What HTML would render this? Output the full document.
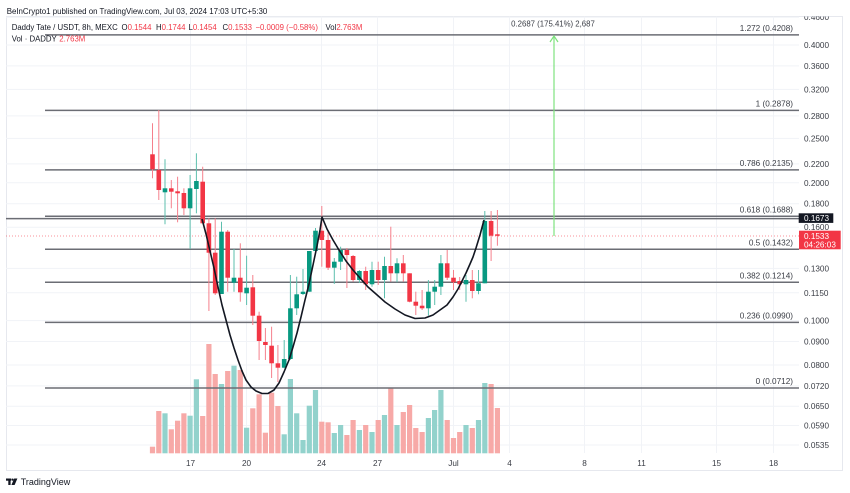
<!DOCTYPE html>
<html><head><meta charset="utf-8"><style>
html,body{margin:0;padding:0;background:#fff;width:850px;height:493px;overflow:hidden}
svg{display:block;font-family:"Liberation Sans",Arial,sans-serif}
</style></head><body>
<svg width="850" height="493" viewBox="0 0 850 493" xmlns="http://www.w3.org/2000/svg">
<rect width="850" height="493" fill="#fff"/>
<text x="6.7" y="13.8" font-size="7.9" fill="#131722">BeInCrypto1 published on TradingView.com, Jul 03, 2024 17:03 UTC+5:30</text>
<defs><clipPath id="pane"><rect x="6" y="16.5" width="837" height="454"/></clipPath></defs>
<rect x="6.5" y="16.5" width="836" height="454" fill="#fff" stroke="#e6e8ee" stroke-width="1"/>
<g clip-path="url(#pane)">
<!-- grid -->
<g stroke="#f1f3f7" stroke-width="1">
<line x1="6" x2="799" y1="17.2" y2="17.2"/><line x1="6" x2="799" y1="45" y2="45"/><line x1="6" x2="799" y1="65.9" y2="65.9"/><line x1="6" x2="799" y1="89.4" y2="89.4"/><line x1="6" x2="799" y1="115.9" y2="115.9"/><line x1="6" x2="799" y1="138.4" y2="138.4"/><line x1="6" x2="799" y1="163.9" y2="163.9"/><line x1="6" x2="799" y1="182.8" y2="182.8"/><line x1="6" x2="799" y1="203.7" y2="203.7"/><line x1="6" x2="799" y1="227.2" y2="227.2"/><line x1="6" x2="799" y1="268.4" y2="268.4"/><line x1="6" x2="799" y1="292.8" y2="292.8"/><line x1="6" x2="799" y1="320.6" y2="320.6"/><line x1="6" x2="799" y1="341.5" y2="341.5"/><line x1="6" x2="799" y1="365" y2="365"/><line x1="6" x2="799" y1="385.9" y2="385.9"/><line x1="6" x2="799" y1="406.2" y2="406.2"/><line x1="6" x2="799" y1="425.5" y2="425.5"/><line x1="6" x2="799" y1="445" y2="445"/>
<line x1="190.5" x2="190.5" y1="16" y2="453"/><line x1="246.5" x2="246.5" y1="16" y2="453"/><line x1="321.5" x2="321.5" y1="16" y2="453"/><line x1="377.5" x2="377.5" y1="16" y2="453"/><line x1="453.5" x2="453.5" y1="16" y2="453"/><line x1="509.5" x2="509.5" y1="16" y2="453"/><line x1="584.5" x2="584.5" y1="16" y2="453"/><line x1="641.5" x2="641.5" y1="16" y2="453"/><line x1="716.5" x2="716.5" y1="16" y2="453"/><line x1="773.5" x2="773.5" y1="16" y2="453"/>
</g>
<!-- volume -->
<g>
<rect x="149.9" y="446.7" width="5.2" height="6.6" fill="#f7a9a7"/>
<rect x="156.2" y="411" width="5.2" height="42.3" fill="#f7a9a7"/>
<rect x="162.4" y="413.3" width="5.2" height="40" fill="#92d2cc"/>
<rect x="168.7" y="429.3" width="5.2" height="24" fill="#f7a9a7"/>
<rect x="175" y="420.7" width="5.2" height="32.6" fill="#f7a9a7"/>
<rect x="181.3" y="413.3" width="5.2" height="40" fill="#f7a9a7"/>
<rect x="187.5" y="415.7" width="5.2" height="37.6" fill="#92d2cc"/>
<rect x="193.8" y="379.3" width="5.2" height="74" fill="#92d2cc"/>
<rect x="200.1" y="416" width="5.2" height="37.3" fill="#f7a9a7"/>
<rect x="206.3" y="344" width="5.2" height="109.3" fill="#f7a9a7"/>
<rect x="212.6" y="374" width="5.2" height="79.3" fill="#f7a9a7"/>
<rect x="218.9" y="384" width="5.2" height="69.3" fill="#92d2cc"/>
<rect x="225.1" y="371" width="5.2" height="82.3" fill="#f7a9a7"/>
<rect x="231.4" y="365.7" width="5.2" height="87.6" fill="#92d2cc"/>
<rect x="237.7" y="370" width="5.2" height="83.3" fill="#f7a9a7"/>
<rect x="244" y="427.7" width="5.2" height="25.6" fill="#92d2cc"/>
<rect x="250.2" y="408.3" width="5.2" height="45" fill="#f7a9a7"/>
<rect x="256.5" y="394.3" width="5.2" height="59" fill="#f7a9a7"/>
<rect x="262.8" y="432.7" width="5.2" height="20.6" fill="#f7a9a7"/>
<rect x="269" y="392.7" width="5.2" height="60.6" fill="#f7a9a7"/>
<rect x="275.3" y="406" width="5.2" height="47.3" fill="#f7a9a7"/>
<rect x="281.6" y="434.3" width="5.2" height="19" fill="#92d2cc"/>
<rect x="287.8" y="379" width="5.2" height="74.3" fill="#92d2cc"/>
<rect x="294.1" y="413.3" width="5.2" height="40" fill="#92d2cc"/>
<rect x="300.4" y="440" width="5.2" height="13.3" fill="#92d2cc"/>
<rect x="306.7" y="405.7" width="5.2" height="47.6" fill="#92d2cc"/>
<rect x="312.9" y="390" width="5.2" height="63.3" fill="#92d2cc"/>
<rect x="319.2" y="421.7" width="5.2" height="31.6" fill="#f7a9a7"/>
<rect x="325.5" y="422.3" width="5.2" height="31" fill="#f7a9a7"/>
<rect x="331.7" y="433" width="5.2" height="20.3" fill="#92d2cc"/>
<rect x="338" y="425" width="5.2" height="28.3" fill="#92d2cc"/>
<rect x="344.3" y="435" width="5.2" height="18.3" fill="#f7a9a7"/>
<rect x="350.5" y="420" width="5.2" height="33.3" fill="#f7a9a7"/>
<rect x="356.8" y="430" width="5.2" height="23.3" fill="#92d2cc"/>
<rect x="363.1" y="425" width="5.2" height="28.3" fill="#f7a9a7"/>
<rect x="369.4" y="432" width="5.2" height="21.3" fill="#92d2cc"/>
<rect x="375.6" y="420" width="5.2" height="33.3" fill="#f7a9a7"/>
<rect x="381.9" y="415" width="5.2" height="38.3" fill="#92d2cc"/>
<rect x="388.2" y="388" width="5.2" height="65.3" fill="#f7a9a7"/>
<rect x="394.4" y="425" width="5.2" height="28.3" fill="#92d2cc"/>
<rect x="400.7" y="412" width="5.2" height="41.3" fill="#f7a9a7"/>
<rect x="407" y="405" width="5.2" height="48.3" fill="#f7a9a7"/>
<rect x="413.2" y="428" width="5.2" height="25.3" fill="#f7a9a7"/>
<rect x="419.5" y="432" width="5.2" height="21.3" fill="#f7a9a7"/>
<rect x="425.8" y="418" width="5.2" height="35.3" fill="#92d2cc"/>
<rect x="432" y="410" width="5.2" height="43.3" fill="#92d2cc"/>
<rect x="438.3" y="390" width="5.2" height="63.3" fill="#92d2cc"/>
<rect x="444.6" y="420" width="5.2" height="33.3" fill="#f7a9a7"/>
<rect x="450.9" y="438" width="5.2" height="15.3" fill="#f7a9a7"/>
<rect x="457.1" y="432" width="5.2" height="21.3" fill="#f7a9a7"/>
<rect x="463.4" y="425" width="5.2" height="28.3" fill="#92d2cc"/>
<rect x="469.7" y="428" width="5.2" height="25.3" fill="#f7a9a7"/>
<rect x="475.9" y="420" width="5.2" height="33.3" fill="#92d2cc"/>
<rect x="482.2" y="383" width="5.2" height="70.3" fill="#92d2cc"/>
<rect x="488.5" y="384" width="5.2" height="69.3" fill="#f7a9a7"/>
<rect x="494.8" y="408" width="5.2" height="45.3" fill="#f7a9a7"/>
</g>
<!-- fib lines -->
<g stroke="#6b6d74" stroke-width="1.5">
<line x1="45" x2="799" y1="34.9" y2="34.9"/>
<line x1="45" x2="799" y1="110.4" y2="110.4"/>
<line x1="45" x2="799" y1="169.9" y2="169.9"/>
<line x1="45" x2="799" y1="216.2" y2="216.2"/>
<line x1="6" x2="799" y1="218.6" y2="218.6"/>
<line x1="45" x2="799" y1="249.2" y2="249.2"/>
<line x1="45" x2="799" y1="282.2" y2="282.2"/>
<line x1="45" x2="799" y1="322.4" y2="322.4"/>
<line x1="45" x2="799" y1="388" y2="388"/>
</g>
<g font-size="8.2" fill="#3a3d45" text-anchor="end">
<text x="793" y="31">1.272 (0.4208)</text>
<text x="793" y="106.6">1 (0.2878)</text>
<text x="793" y="166">0.786 (0.2135)</text>
<text x="793" y="212.4">0.618 (0.1688)</text>
<text x="793" y="245.4">0.5 (0.1432)</text>
<text x="793" y="278.4">0.382 (0.1214)</text>
<text x="793" y="318.6">0.236 (0.0990)</text>
<text x="793" y="384.2">0 (0.0712)</text>
</g>
<!-- current price dotted -->
<line x1="6" x2="799" y1="236" y2="236" stroke="#f23645" stroke-opacity="0.55" stroke-width="1" stroke-dasharray="1,2"/>
<!-- candles -->
<g stroke-width="1">
<g fill="#f23645" stroke="#f5808c">
<line x1="152.5" x2="152.5" y1="123.3" y2="178.3"/><rect x="150.2" y="154.3" width="4.6" height="15" stroke="none"/>
<line x1="158.8" x2="158.8" y1="110" y2="200"/><rect x="156.5" y="170" width="4.6" height="20" stroke="none"/>
<line x1="171.3" x2="171.3" y1="180" y2="208.3"/><rect x="169" y="188.3" width="4.6" height="3.4" stroke="none"/>
<line x1="177.6" x2="177.6" y1="176.7" y2="222.3"/><rect x="175.3" y="191.3" width="4.6" height="2" stroke="none"/>
<line x1="183.9" x2="183.9" y1="188.3" y2="215"/><rect x="181.6" y="193" width="4.6" height="15.3" stroke="none"/>
<line x1="202.7" x2="202.7" y1="166.7" y2="223.3"/><rect x="200.4" y="181.7" width="4.6" height="41.6" stroke="none"/>
<line x1="208.9" x2="208.9" y1="218.3" y2="311"/><rect x="206.6" y="223.3" width="4.6" height="29.4" stroke="none"/>
<line x1="215.2" x2="215.2" y1="218.3" y2="295"/><rect x="212.9" y="252.7" width="4.6" height="40.6" stroke="none"/>
<line x1="227.7" x2="227.7" y1="230" y2="291.7"/><rect x="225.4" y="231.7" width="4.6" height="46" stroke="none"/>
<line x1="240.3" x2="240.3" y1="243.3" y2="301.7"/><rect x="238" y="277.7" width="4.6" height="14.6" stroke="none"/>
<line x1="252.8" x2="252.8" y1="275" y2="325"/><rect x="250.5" y="287.3" width="4.6" height="28.4" stroke="none"/>
<line x1="259.1" x2="259.1" y1="311.7" y2="360"/><rect x="256.8" y="315.7" width="4.6" height="25.3" stroke="none"/>
<line x1="265.4" x2="265.4" y1="328" y2="360"/><rect x="263.1" y="342" width="4.6" height="3" stroke="none"/>
<line x1="271.6" x2="271.6" y1="326.7" y2="378"/><rect x="269.3" y="345.7" width="4.6" height="17.6" stroke="none"/>
<line x1="277.9" x2="277.9" y1="345" y2="382"/><rect x="275.6" y="363.3" width="4.6" height="4.4" stroke="none"/>
<line x1="321.8" x2="321.8" y1="206" y2="266.7"/><rect x="319.5" y="230.7" width="4.6" height="9.3" stroke="none"/>
<line x1="328.1" x2="328.1" y1="230" y2="270"/><rect x="325.8" y="240" width="4.6" height="27.7" stroke="none"/>
<line x1="346.9" x2="346.9" y1="248" y2="288"/><rect x="344.6" y="250" width="4.6" height="5" stroke="none"/>
<line x1="353.1" x2="353.1" y1="255" y2="281.7"/><rect x="350.8" y="256" width="4.6" height="24" stroke="none"/>
<line x1="365.7" x2="365.7" y1="266.7" y2="290"/><rect x="363.4" y="271" width="4.6" height="13.3" stroke="none"/>
<line x1="378.2" x2="378.2" y1="261.7" y2="285"/><rect x="375.9" y="270" width="4.6" height="10" stroke="none"/>
<line x1="390.8" x2="390.8" y1="226.7" y2="281.7"/><rect x="388.5" y="266" width="4.6" height="7.3" stroke="none"/>
<line x1="403.3" x2="403.3" y1="255" y2="281.7"/><rect x="401" y="263.3" width="4.6" height="10" stroke="none"/>
<line x1="409.6" x2="409.6" y1="273.3" y2="302.3"/><rect x="407.3" y="273.3" width="4.6" height="28.4" stroke="none"/>
<line x1="415.8" x2="415.8" y1="291.7" y2="315"/><rect x="413.5" y="301.7" width="4.6" height="4" stroke="none"/>
<line x1="422.1" x2="422.1" y1="290" y2="310"/><rect x="419.8" y="305.7" width="4.6" height="2.6" stroke="none"/>
<line x1="447.2" x2="447.2" y1="250" y2="280"/><rect x="444.9" y="263.3" width="4.6" height="14.4" stroke="none"/>
<line x1="453.5" x2="453.5" y1="270" y2="290"/><rect x="451.2" y="277.7" width="4.6" height="4.6" stroke="none"/>
<line x1="459.7" x2="459.7" y1="277" y2="290"/><rect x="457.4" y="281" width="4.6" height="3.3" stroke="none"/>
<line x1="472.3" x2="472.3" y1="270" y2="298.3"/><rect x="470" y="280" width="4.6" height="11" stroke="none"/>
<line x1="491.1" x2="491.1" y1="211" y2="261"/><rect x="488.8" y="221" width="4.6" height="14.7" stroke="none"/>
<line x1="497.4" x2="497.4" y1="210" y2="245.7"/><rect x="495.1" y="234.3" width="4.6" height="1.5" stroke="none"/>
</g>
<g fill="#089981" stroke="#5dbfae">
<line x1="165" x2="165" y1="159.3" y2="224.3"/><rect x="162.7" y="188.3" width="4.6" height="4" stroke="none"/>
<line x1="190.1" x2="190.1" y1="175" y2="249"/><rect x="187.8" y="188.3" width="4.6" height="20" stroke="none"/>
<line x1="196.4" x2="196.4" y1="153.3" y2="213.3"/><rect x="194.1" y="181" width="4.6" height="8" stroke="none"/>
<line x1="221.5" x2="221.5" y1="221.7" y2="294"/><rect x="219.2" y="231.7" width="4.6" height="62.3" stroke="none"/>
<line x1="234" x2="234" y1="249" y2="291.7"/><rect x="231.7" y="277.7" width="4.6" height="5" stroke="none"/>
<line x1="246.6" x2="246.6" y1="255.7" y2="305"/><rect x="244.3" y="287.7" width="4.6" height="5.6" stroke="none"/>
<line x1="284.2" x2="284.2" y1="340" y2="368.3"/><rect x="281.9" y="359" width="4.6" height="8.7" stroke="none"/>
<line x1="290.4" x2="290.4" y1="275" y2="360"/><rect x="288.1" y="308.3" width="4.6" height="50.7" stroke="none"/>
<line x1="296.7" x2="296.7" y1="276.7" y2="315"/><rect x="294.4" y="294.3" width="4.6" height="14" stroke="none"/>
<line x1="303" x2="303" y1="269" y2="295"/><rect x="300.7" y="291.7" width="4.6" height="2.3" stroke="none"/>
<line x1="309.3" x2="309.3" y1="251" y2="291.7"/><rect x="307" y="251" width="4.6" height="40.7" stroke="none"/>
<line x1="315.5" x2="315.5" y1="228" y2="253"/><rect x="313.2" y="230.7" width="4.6" height="20.3" stroke="none"/>
<line x1="334.3" x2="334.3" y1="258" y2="284"/><rect x="332" y="261.7" width="4.6" height="6" stroke="none"/>
<line x1="340.6" x2="340.6" y1="246.7" y2="270"/><rect x="338.3" y="250" width="4.6" height="11.7" stroke="none"/>
<line x1="359.4" x2="359.4" y1="270" y2="283"/><rect x="357.1" y="271" width="4.6" height="9" stroke="none"/>
<line x1="372" x2="372" y1="261.7" y2="286.7"/><rect x="369.7" y="270" width="4.6" height="14.3" stroke="none"/>
<line x1="384.5" x2="384.5" y1="256.7" y2="298.3"/><rect x="382.2" y="266" width="4.6" height="14" stroke="none"/>
<line x1="397" x2="397" y1="258.3" y2="282.3"/><rect x="394.7" y="263.3" width="4.6" height="10" stroke="none"/>
<line x1="428.4" x2="428.4" y1="280" y2="315.7"/><rect x="426.1" y="291.7" width="4.6" height="16.6" stroke="none"/>
<line x1="434.7" x2="434.7" y1="280" y2="305"/><rect x="432.4" y="286.7" width="4.6" height="5" stroke="none"/>
<line x1="440.9" x2="440.9" y1="255" y2="295"/><rect x="438.6" y="263.3" width="4.6" height="23.4" stroke="none"/>
<line x1="466" x2="466" y1="275" y2="301.7"/><rect x="463.7" y="280" width="4.6" height="4.3" stroke="none"/>
<line x1="478.5" x2="478.5" y1="270" y2="294.3"/><rect x="476.2" y="283.3" width="4.6" height="7.7" stroke="none"/>
<line x1="484.8" x2="484.8" y1="211" y2="283.3"/><rect x="482.5" y="221" width="4.6" height="62.3" stroke="none"/>
</g>
</g>
<!-- cup curves -->
<path d="M202,219 L206,234 L210,251 L214,268 L218,287 L222,305 L226,320 L230,335 L234,348 L238,360 L242,371 L246,380 L251,387 L256,391 L262,393.5 L268,393.5 L274,390 L279,383 L284,372 L289,360 L293,347 L297,333 L301,317 L305,300 L309,284 L313,265 L317,246 L320,230 L322,217 L327,229 L333,240 L339,250 L346,261 L353,270 L360,278 L368,287 L376,294 L385,302 L395,309 L405,315 L415,318.5 L425,318 L433,315 L440,310 L447,305 L453,297 L458,289 L462,281 L466,273 L470,264 L473,257 L476,248 L480,235 L484,220" fill="none" stroke="#131722" stroke-width="1.6" stroke-linejoin="round"/>
<!-- measure arrow -->
<line x1="554" x2="554" y1="236" y2="36" stroke="#7ee27e" stroke-width="1.2"/>
<path d="M550,42 L554,36 L558,42" fill="none" stroke="#7ee27e" stroke-width="1.2"/>
<text x="553" y="26.5" font-size="7.8" fill="#3a3d45" text-anchor="middle">0.2687 (175.41%) 2,687</text>
<!-- price axis labels -->
<g font-size="8.2" fill="#3a3d45">
<text x="804" y="20">0.4600</text>
<text x="804" y="48">0.4000</text>
<text x="804" y="68.9">0.3600</text>
<text x="804" y="92.4">0.3200</text>
<text x="804" y="118.9">0.2800</text>
<text x="804" y="141.4">0.2500</text>
<text x="804" y="166.9">0.2200</text>
<text x="804" y="185.8">0.2000</text>
<text x="804" y="206.7">0.1800</text>
<text x="804" y="230.2">0.1600</text>
<text x="804" y="271.4">0.1300</text>
<text x="804" y="295.8">0.1150</text>
<text x="804" y="323.6">0.1000</text>
<text x="804" y="344.5">0.0900</text>
<text x="804" y="368">0.0800</text>
<text x="804" y="388.9">0.0720</text>
<text x="804" y="409.2">0.0650</text>
<text x="804" y="428.5">0.0590</text>
<text x="804" y="448">0.0535</text>
</g>
<rect x="798.7" y="213.3" width="34.6" height="9.6" fill="#131722"/>
<text x="804" y="221" font-size="8.2" fill="#fff">0.1673</text>
<rect x="799" y="230.7" width="41.7" height="18.6" fill="#f23645"/>
<text x="804" y="238.8" font-size="8.2" fill="#fff">0.1533</text>
<text x="804" y="247.6" font-size="8.2" fill="#fff">04:26:03</text>
<!-- date axis -->
<g font-size="8.2" fill="#3a3d45" text-anchor="middle">
<text x="190.5" y="466">17</text><text x="246.5" y="466">20</text><text x="321.5" y="466">24</text><text x="377.5" y="466">27</text><text x="453.5" y="466">Jul</text><text x="509.5" y="466">4</text><text x="584.5" y="466">8</text><text x="641.5" y="466">11</text><text x="716.5" y="466">15</text><text x="773.5" y="466">18</text>
</g>
<!-- legend -->
<g font-size="7.8">
<text x="11.7" y="30" fill="#131722">Daddy Tate / USDT, 8h, MEXC</text>
<text x="121.5" y="30"><tspan fill="#131722">O</tspan><tspan fill="#f23645">0.1544</tspan></text>
<text x="156" y="30"><tspan fill="#131722">H</tspan><tspan fill="#f23645">0.1744</tspan></text>
<text x="188.5" y="30"><tspan fill="#131722">L</tspan><tspan fill="#f23645">0.1454</tspan></text>
<text x="222.5" y="30"><tspan fill="#131722">C</tspan><tspan fill="#f23645">0.1533</tspan></text>
<text x="255.5" y="30" fill="#f23645">−0.0009 (−0.58%)</text>
<text x="325.5" y="30"><tspan fill="#131722">Vol</tspan><tspan fill="#f23645">2.763M</tspan></text>
<text x="11.7" y="41.5" fill="#131722">Vol · DADDY</text>
<text x="59.3" y="41.5" fill="#f23645">2.763M</text>
</g>
</g>
<!-- TradingView logo -->
<g fill="#131722">
<rect x="6" y="478.5" width="5.2" height="2.2"/>
<rect x="8.3" y="478.5" width="2.3" height="6.5"/>
<circle cx="12.6" cy="479.6" r="1.1"/>
<polygon points="14.2,478.5 17.4,478.5 14.6,485 11.4,485"/>
</g>
<text x="20.7" y="485" font-size="9" fill="#131722">TradingView</text>
</svg>
</body></html>
